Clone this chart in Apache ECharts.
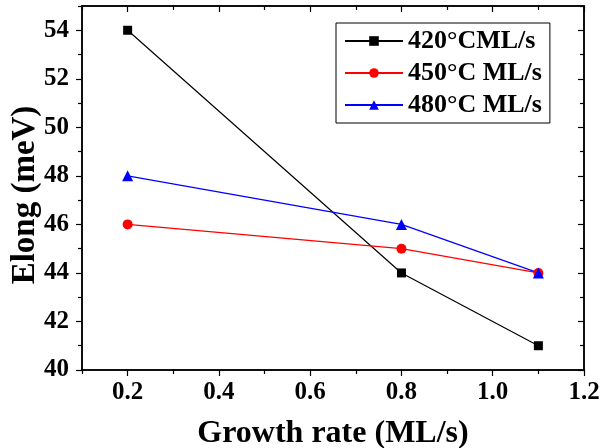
<!DOCTYPE html>
<html><head><meta charset="utf-8">
<script src="https://cdn.jsdelivr.net/npm/echarts@6/dist/echarts.min.js"></script>
<style>html,body{margin:0;padding:0;background:#fff}#c{width:601px;height:448px}</style>
</head><body><div id="c"></div>
<script>
var seriesNames = ['420°CML/s', '450°C ML/s', '480°C ML/s'];
var growthRate = [0.2, 0.8, 1.1];
var elong420 = [54, 44, 41];
var elong450 = [46, 45, 44];
var elong480 = [48, 46, 44];
var xMajorTicks = [0.2, 0.4, 0.6, 0.8, 1.0, 1.2];
var xMinorTicks = [0.1, 0.3, 0.5, 0.7, 0.9, 1.1];
var yMajorTicks = [40, 42, 44, 46, 48, 50, 52, 54];
var yMinorTicks = [41, 43, 45, 47, 49, 51, 53, 55];

var FONT = "'Liberation Serif','Times New Roman',serif";
function pts(ys){ return growthRate.map(function(x,i){ return [x, ys[i]]; }); }
var axisLineStyle = {color:'#000', width:1.5};

function xAx(pos, ticks, len, inside, withLabel){
  var a = {type:'value', position:pos, min:0.1, max:1.2, splitLine:{show:false},
    axisLine:{show:true, onZero:false, lineStyle:axisLineStyle},
    axisTick:{show:true, inside:inside, length:len, customValues:ticks, lineStyle:{color:'#000', width:1.2}},
    axisLabel:{show:false}};
  if (withLabel){
    a.axisLabel = {show:true, customValues:xMajorTicks, margin:10, color:'#000', fontFamily:FONT, fontWeight:'bold', fontSize:25,
      formatter:function(v){ return Number(v).toFixed(1); }};
    a.name = 'Growth rate (ML/s)'; a.nameLocation='middle'; a.nameGap=48; a.nameMoveOverlap=false;
    a.nameTextStyle = {color:'#000', fontFamily:FONT, fontWeight:'bold', fontSize:32};
  }
  return a;
}
function yAx(pos, ticks, len, inside, withLabel){
  var a = {type:'value', position:pos, min:40, max:55, splitLine:{show:false},
    axisLine:{show:true, onZero:false, lineStyle:axisLineStyle},
    axisTick:{show:true, inside:inside, length:len, customValues:ticks, lineStyle:{color:'#000', width:1.2}},
    axisLabel:{show:false}};
  if (withLabel){
    a.axisLabel = {show:true, customValues:yMajorTicks, margin:13, color:'#000', fontFamily:FONT, fontWeight:'bold', fontSize:25};
    a.name = 'Elong (meV)'; a.nameLocation='middle'; a.nameGap=40; a.nameMoveOverlap=false;
    a.nameTextStyle = {color:'#000', fontFamily:FONT, fontWeight:'bold', fontSize:33, padding:[0,0,0,-14]};
  }
  return a;
}

var chart = echarts.init(document.getElementById('c'), null, {renderer:'canvas'});
chart.setOption({
  animation:false,
  backgroundColor:'#fff',
  grid:{left:82, right:17, top:6, bottom:78, containLabel:false, outerBoundsMode:'none'},
  xAxis:[
    xAx('bottom', xMajorTicks, 6, false, true),
    xAx('bottom', xMinorTicks, 4, false, false),
    xAx('top', xMajorTicks, 6, true, false),
    xAx('top', xMinorTicks, 4, true, false)
  ],
  yAxis:[
    yAx('left', yMajorTicks, 6, false, true),
    yAx('left', yMinorTicks, 4, false, false),
    yAx('right', yMajorTicks, 6, true, false),
    yAx('right', yMinorTicks, 4, true, false)
  ],
  legend:{
    left:336, top:23, width:212, orient:'vertical',
    padding:[5,8,5,8], itemGap:6, itemWidth:58, itemHeight:12,
    borderColor:'#000', borderWidth:1, backgroundColor:'#fff',
    textStyle:{color:'#000', fontFamily:FONT, fontWeight:'bold', fontSize:26, lineHeight:26},
    data:seriesNames
  },
  series:[
    {name:seriesNames[0], type:'line', data:pts(elong420), symbol:'rect', symbolSize:9,
     lineStyle:{color:'#000', width:1.2}, itemStyle:{color:'#000'}},
    {name:seriesNames[1], type:'line', data:pts(elong450), symbol:'circle', symbolSize:10,
     lineStyle:{color:'#ff0000', width:1.2}, itemStyle:{color:'#ff0000'}},
    {name:seriesNames[2], type:'line', data:pts(elong480), symbol:'triangle', symbolSize:11,
     lineStyle:{color:'#0000ff', width:1.2}, itemStyle:{color:'#0000ff'}}
  ]
});
</script></body></html>
